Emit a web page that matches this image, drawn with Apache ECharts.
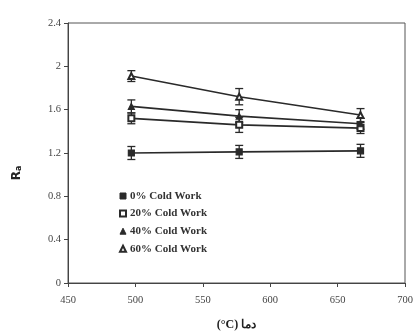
<!DOCTYPE html>
<html><head><meta charset="utf-8">
<script src="https://cdn.jsdelivr.net/npm/echarts@6/dist/echarts.min.js"></script>
<style>html,body{margin:0;padding:0;background:#fff}#c{width:416px;height:332px}</style>
</head><body><div id="c"></div>
<script>
const temps = [497, 577, 667];
const seriesNames = ['0% Cold Work', '20% Cold Work', '40% Cold Work', '60% Cold Work'];
const cw0 = [1.20, 1.21, 1.22];
const cw20 = [1.52, 1.46, 1.43];
const cw40 = [1.63, 1.54, 1.47];
const cw60 = [1.91, 1.72, 1.55];
const err0 = [0.06, 0.06, 0.06];
const err20 = [0.05, 0.07, 0.05];
const err40 = [0.06, 0.06, 0.05];
const err60 = [0.05, 0.075, 0.06];
const xTicks = [450, 500, 550, 600, 650, 700];
const yTicks = [0, 0.4, 0.8, 1.2, 1.6, 2, 2.4];

const values = [cw0, cw20, cw40, cw60];
const errs = [err0, err20, err40, err60];
const symbols = ['rect', 'emptyRect', 'triangle', 'emptyTriangle'];
const ink = '#2a2a2a';
const font = '"Liberation Serif", "DejaVu Serif", serif';

const series = [];
values.forEach((v, i) => {
  series.push({
    name: seriesNames[i], type: 'line',
    data: temps.map((t, k) => [t, v[k]]),
    symbol: symbols[i], symbolSize: 6,
    lineStyle: {color: ink, width: 1.6},
    itemStyle: {color: ink, borderColor: ink, borderWidth: 1.2},
    z: 3
  });
  series.push({
    type: 'custom', name: seriesNames[i] + ' err',
    data: temps.map((t, k) => [t, v[k] - errs[i][k], v[k] + errs[i][k]]),
    renderItem: function (params, api) {
      const lo = api.coord([api.value(0), api.value(1)]);
      const hi = api.coord([api.value(0), api.value(2)]);
      const w = 4;
      const st = {stroke: ink, lineWidth: 1.3};
      return {type: 'group', children: [
        {type: 'line', shape: {x1: lo[0], y1: lo[1], x2: hi[0], y2: hi[1]}, style: st},
        {type: 'line', shape: {x1: lo[0] - w, y1: lo[1], x2: lo[0] + w, y2: lo[1]}, style: st},
        {type: 'line', shape: {x1: hi[0] - w, y1: hi[1], x2: hi[0] + w, y2: hi[1]}, style: st}
      ]};
    },
    z: 2
  });
});

const chart = echarts.init(document.getElementById('c'));
chart.setOption({
  backgroundColor: '#fff',
  animation: false,
  grid: {left: 68, right: 11, top: 23, bottom: 49, show: true, borderColor: '#555', borderWidth: 1,
         containLabel: false, outerBoundsMode: 'none'},
  legend: {
    orient: 'vertical', left: 114, top: 185, itemGap: 5.6, itemWidth: 6, itemHeight: 6,
    data: seriesNames.map((n, i) => ({name: n, icon: symbols[i]})),
    textStyle: {fontFamily: font, fontSize: 11, fontWeight: 'bold', color: '#333', padding: [0, 0, 0, -1], lineHeight: 12},
    itemStyle: {color: ink, borderColor: ink, borderWidth: 1}
  },
  xAxis: {
    type: 'value', min: xTicks[0], max: xTicks[xTicks.length - 1], interval: 50,
    name: '(°C) دما', nameLocation: 'middle', nameGap: 36,
    nameTextStyle: {fontFamily: font, fontSize: 12, fontWeight: 'bold', color: '#222'},
    axisLine: {lineStyle: {color: '#444'}},
    axisTick: {length: 4, lineStyle: {color: '#444'}},
    axisLabel: {fontFamily: font, fontSize: 10.5, color: '#444', margin: 12},
    splitLine: {show: false}
  },
  yAxis: {
    type: 'value', min: yTicks[0], max: yTicks[yTicks.length - 1], interval: 0.4,
    name: '{r|R}{s|a}', nameLocation: 'middle', nameGap: 45,
    nameTextStyle: {padding: [0, 40, 0, 0], rich: {
      r: {fontFamily: 'DejaVu Sans, sans-serif', fontSize: 12, fontWeight: 'bold', color: '#222'},
      s: {fontFamily: 'DejaVu Sans, sans-serif', fontSize: 8, fontWeight: 'bold', color: '#222', verticalAlign: 'bottom', padding: [4, 0, 0, 0]}
    }},
    axisLine: {show: true, lineStyle: {color: '#444'}},
    axisTick: {show: true, length: 4, lineStyle: {color: '#444'}},
    axisLabel: {fontFamily: font, fontSize: 10.5, color: '#444', margin: 7},
    splitLine: {show: false}
  },
  series: series
});
</script></body></html>
